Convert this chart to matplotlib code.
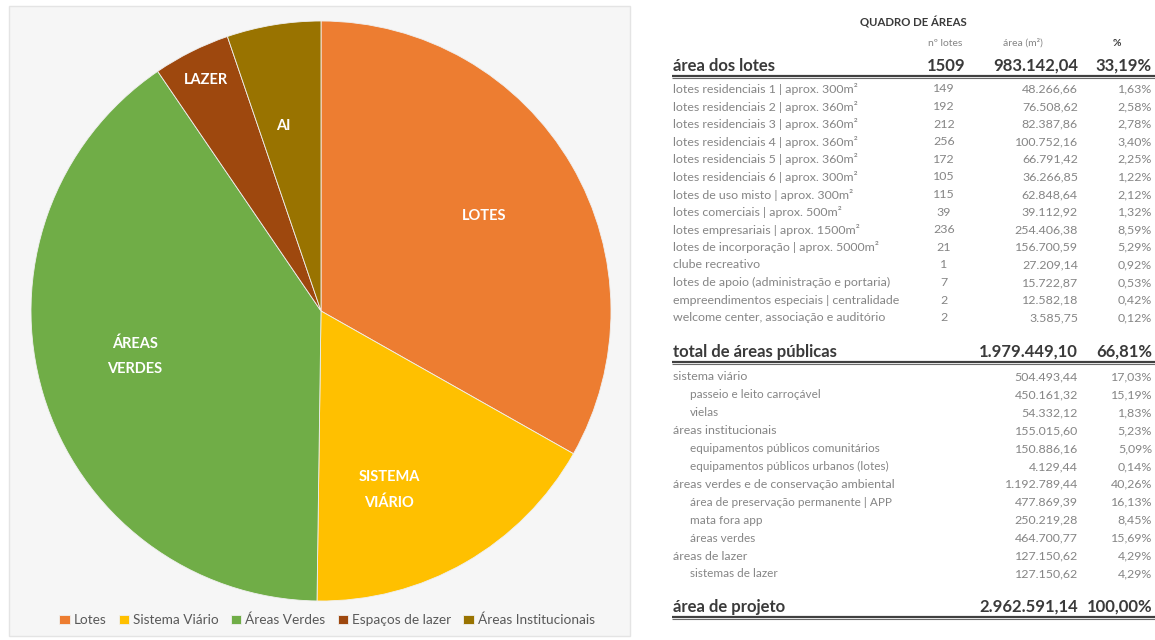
import matplotlib
matplotlib.use("Agg")
import matplotlib.pyplot as plt
from matplotlib.patches import Rectangle
import numpy as np

# ---------------- data ----------------
pie_labels = ["LOTES", "SISTEMA\nVIÁRIO", "ÁREAS\nVERDES", "LAZER", "AI"]
legend_labels = ["Lotes", "Sistema Viário", "Áreas Verdes", "Espaços de lazer", "Áreas Institucionais"]
pie_values = [33.19, 17.03, 40.26, 4.29, 5.23]
pie_colors = ["#ED7D31", "#FFC000", "#70AD47", "#9E480E", "#997300"]

table_title = "QUADRO DE ÁREAS"
col_headers = ["nº lotes", "área (m²)", "%"]

lotes_header = "área dos lotes"
lotes_total_count = 1509
lotes_total_area = 983142.04
lotes_total_pct = 33.19

lot_labels = [
    "lotes residenciais 1 | aprox. 300m²",
    "lotes residenciais 2 | aprox. 360m²",
    "lotes residenciais 3 | aprox. 360m²",
    "lotes residenciais 4 | aprox. 360m²",
    "lotes residenciais 5 | aprox. 360m²",
    "lotes residenciais 6 | aprox. 300m²",
    "lotes de uso misto | aprox. 300m²",
    "lotes comerciais | aprox. 500m²",
    "lotes empresariais | aprox. 1500m²",
    "lotes de incorporação | aprox. 5000m²",
    "clube recreativo",
    "lotes de apoio (administração e portaria)",
    "empreendimentos especiais | centralidade",
    "welcome center, associação e auditório",
]
lot_counts = [149, 192, 212, 256, 172, 105, 115, 39, 236, 21, 1, 7, 2, 2]
lot_areas = [48266.66, 76508.62, 82387.86, 100752.16, 66791.42, 36266.85, 62848.64,
             39112.92, 254406.38, 156700.59, 27209.14, 15722.87, 12582.18, 3585.75]
lot_pcts = [1.63, 2.58, 2.78, 3.40, 2.25, 1.22, 2.12, 1.32, 8.59, 5.29, 0.92, 0.53, 0.42, 0.12]

pub_header = "total de áreas públicas"
pub_total_area = 1979449.10
pub_total_pct = 66.81

pub_labels = [
    "sistema viário",
    "passeio e leito carroçável",
    "vielas",
    "áreas institucionais",
    "equipamentos públicos comunitários",
    "equipamentos públicos urbanos (lotes)",
    "áreas verdes e de conservação ambiental",
    "área de preservação permanente | APP",
    "mata fora app",
    "áreas verdes",
    "áreas de lazer",
    "sistemas de lazer",
]
pub_indent = [0, 1, 1, 0, 1, 1, 0, 1, 1, 1, 0, 1]
pub_areas = [504493.44, 450161.32, 54332.12, 155015.60, 150886.16, 4129.44,
             1192789.44, 477869.39, 250219.28, 464700.77, 127150.62, 127150.62]
pub_pcts = [17.03, 15.19, 1.83, 5.23, 5.09, 0.14, 40.26, 16.13, 8.45, 15.69, 4.29, 4.29]

proj_header = "área de projeto"
proj_total_area = 2962591.14
proj_total_pct = 100.00


def br(v, dec=2):
    s = f"{v:,.{dec}f}"
    return s.replace(",", "X").replace(".", ",").replace("X", ".")


FONT = "Lato"
W, H = 1155, 640
fig = plt.figure(figsize=(W / 100, H / 100), dpi=100)
fig.patch.set_facecolor("white")

# ---------------- pie panel ----------------
bg = fig.add_axes([0, 0, 1, 1])
bg.set_xlim(0, W)
bg.set_ylim(H, 0)
bg.axis("off")
bg.add_patch(Rectangle((9, 6), 621, 630, facecolor="#F6F6F6", edgecolor="#E4E4E4", lw=1.0))

cx, cy, r = 321, 311, 290
ax = fig.add_axes([(cx - r) / W, (H - cy - r) / H, 2 * r / W, 2 * r / H])
wedges, _ = ax.pie(pie_values, colors=pie_colors, startangle=90, counterclock=False,
                   wedgeprops=dict(linewidth=0.6, edgecolor="#F0F0F0"))
ax.set_xlim(-1, 1)
ax.set_ylim(-1, 1)
ax.axis("off")

label_dist = [0.65, 0.66, 0.66, 0.89, 0.65]
angle_adj = [0, -9, -3, 0, 2]
for w, lab, d, adj in zip(wedges, pie_labels, label_dist, angle_adj):
    th = np.deg2rad((w.theta1 + w.theta2) / 2 + adj)
    ax.text(d * np.cos(th), d * np.sin(th), lab, ha="center", va="center",
            color="white", fontsize=10.5, fontweight="bold", family=FONT,
            linespacing=1.95)

fig.legend(wedges, legend_labels, loc="center", bbox_to_anchor=(327 / W, 1 - 620 / H),
           ncol=5, frameon=False, handlelength=0.75, handleheight=0.75,
           handletextpad=0.3, columnspacing=0.9, labelcolor="#595959",
           prop=dict(family=FONT, size=9.8))

# ---------------- table ----------------
tx = bg
x_left = 673
x_indent = 690
x_count = 944
x_count_hdr = 965
x_area = 1078
x_pct = 1152
line_x0, line_x1 = 672, 1155

head_c = "#3A3A3A"
row_c = "#858585"
hfs = 12.0
rfs = 8.9

tx.text(913, 23, table_title, ha="center", va="center", fontsize=8.2, fontweight="bold",
        color=head_c, family=FONT)
tx.text(945, 43, col_headers[0], ha="center", va="center", fontsize=7.5, color=row_c, family=FONT)
tx.text(1023, 43, col_headers[1], ha="center", va="center", fontsize=7.5, color=row_c, family=FONT)
tx.text(1117, 43, col_headers[2], ha="center", va="center", fontsize=7.5, color=head_c,
        fontweight="bold", family=FONT)


def header_row(y, label, count, area, pct):
    tx.text(x_left, y, label, ha="left", va="center", fontsize=hfs, fontweight="bold",
            color=head_c, family=FONT)
    if count is not None:
        tx.text(x_count_hdr, y, str(count), ha="right", va="center", fontsize=hfs,
                fontweight="bold", color=head_c, family=FONT)
    tx.text(x_area, y, br(area), ha="right", va="center", fontsize=hfs, fontweight="bold",
            color=head_c, family=FONT)
    tx.text(x_pct, y, br(pct) + "%", ha="right", va="center", fontsize=hfs, fontweight="bold",
            color=head_c, family=FONT)
    tx.plot([line_x0, line_x1], [y + 9.5, y + 9.5], color="#404040", lw=1.6, solid_capstyle="butt")
    tx.plot([line_x0, line_x1], [y + 12, y + 12], color="#6A6A6A", lw=0.8, solid_capstyle="butt")


header_row(66, lotes_header, lotes_total_count, lotes_total_area, lotes_total_pct)
y0, dy = 89, 17.6
for i, (lab, c, a, p) in enumerate(zip(lot_labels, lot_counts, lot_areas, lot_pcts)):
    y = y0 + i * dy
    tx.text(x_left, y, lab, ha="left", va="center", fontsize=rfs, color=row_c, family=FONT)
    tx.text(x_count, y, str(c), ha="center", va="center", fontsize=rfs, color=row_c, family=FONT)
    tx.text(x_area, y, br(a), ha="right", va="center", fontsize=rfs, color=row_c, family=FONT)
    tx.text(x_pct, y, br(p) + "%", ha="right", va="center", fontsize=rfs, color=row_c, family=FONT)

header_row(352, pub_header, None, pub_total_area, pub_total_pct)
y0, dy = 377, 17.9
for i, (lab, ind, a, p) in enumerate(zip(pub_labels, pub_indent, pub_areas, pub_pcts)):
    y = y0 + i * dy
    fs = rfs if ind == 0 else rfs - 0.4
    tx.text(x_indent if ind else x_left, y, lab, ha="left", va="center", fontsize=fs,
            color=row_c, family=FONT)
    tx.text(x_area, y, br(a), ha="right", va="center", fontsize=rfs, color=row_c, family=FONT)
    tx.text(x_pct, y, br(p) + "%", ha="right", va="center", fontsize=rfs, color=row_c, family=FONT)

header_row(607, proj_header, None, proj_total_area, proj_total_pct)

fig.savefig("out.png", dpi=100, facecolor="white")
